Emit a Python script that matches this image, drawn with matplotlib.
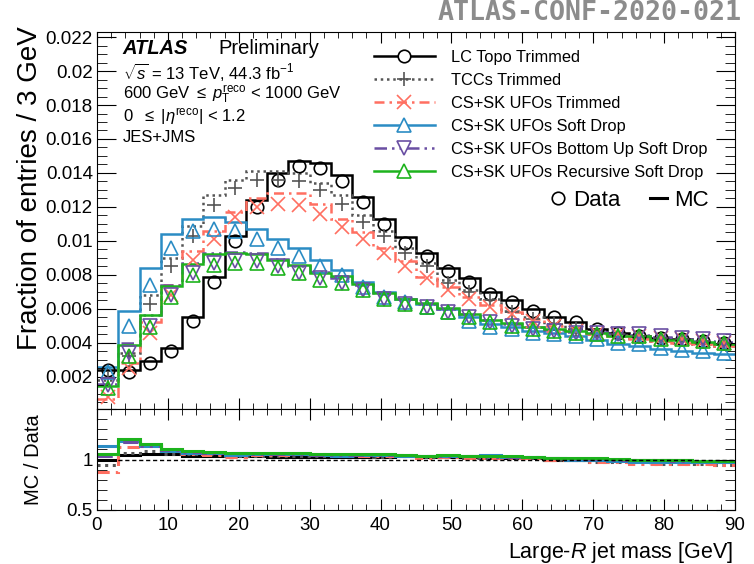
import numpy as np
import matplotlib
matplotlib.use("Agg")
import matplotlib.pyplot as plt
from matplotlib.lines import Line2D
from matplotlib.ticker import MultipleLocator, FuncFormatter

plt.rcParams['font.family'] = ['Liberation Sans', 'DejaVu Sans']
plt.rcParams['mathtext.fontset'] = 'custom'
plt.rcParams['mathtext.rm'] = 'Liberation Sans'
plt.rcParams['mathtext.it'] = 'Liberation Sans:italic'
plt.rcParams['mathtext.bf'] = 'Liberation Sans:bold'

# large-R jet mass, 3 GeV bins from 0 to 90 GeV
bin_width = 3
mass_max = 90

# data (markers) and MC (histograms) for each jet collection
lctopo_data = [0.0024, 0.0023, 0.0028, 0.0035, 0.0053, 0.0076, 0.0100, 0.0120, 0.0136, 0.0144,
               0.0143, 0.0135, 0.0123, 0.0110, 0.0099, 0.0091, 0.0082, 0.0076, 0.0069, 0.0064,
               0.0059, 0.0055, 0.0052, 0.0048, 0.0046, 0.0044, 0.0043, 0.0042, 0.0041, 0.0040]
lctopo_mc = [0.00238, 0.0024, 0.00295, 0.0037, 0.0055, 0.0079, 0.0103, 0.0124, 0.0140, 0.0147,
             0.0146, 0.0139, 0.0126, 0.0113, 0.0102, 0.0093, 0.0084, 0.0078, 0.0070, 0.0065,
             0.0060, 0.0055, 0.0052, 0.0048, 0.0046, 0.0044, 0.0043, 0.0042, 0.0040, 0.0039]

tcc_data = [0.0019, 0.0032, 0.0063, 0.0085, 0.0103, 0.0121, 0.0131, 0.0136, 0.0136, 0.0135,
            0.0130, 0.0122, 0.0111, 0.0103, 0.0093, 0.0085, 0.0075, 0.0070, 0.0065, 0.0058,
            0.0054, 0.0051, 0.0048, 0.0046, 0.0045, 0.0044, 0.0043, 0.0042, 0.0041, 0.0040]
tcc_mc = [0.0018, 0.0034, 0.0068, 0.0090, 0.0109, 0.0127, 0.0136, 0.0141, 0.0141, 0.0140,
          0.0134, 0.0127, 0.0115, 0.0106, 0.0096, 0.0087, 0.0077, 0.0071, 0.0066, 0.0059,
          0.0055, 0.0051, 0.0048, 0.0045, 0.0044, 0.0043, 0.0041, 0.0040, 0.0039, 0.0038]

ufo_trim_data = [0.0008, 0.0025, 0.0046, 0.0068, 0.0089, 0.0101, 0.0114, 0.0120, 0.0122, 0.0121,
                 0.0116, 0.0108, 0.0101, 0.0093, 0.0085, 0.0078, 0.0071, 0.0066, 0.0061, 0.0057,
                 0.0053, 0.0050, 0.0047, 0.0046, 0.0045, 0.0044, 0.0043, 0.0042, 0.0041, 0.0040]
ufo_trim_mc = [0.0007, 0.0028, 0.0052, 0.0074, 0.0094, 0.0106, 0.0117, 0.0125, 0.0128, 0.0128,
               0.0122, 0.0113, 0.0105, 0.0096, 0.0088, 0.0079, 0.0073, 0.0067, 0.0062, 0.0058,
               0.0054, 0.0050, 0.0047, 0.0045, 0.0044, 0.0042, 0.0041, 0.0040, 0.0039, 0.0038]

ufo_sd_data = [0.0023, 0.0050, 0.0074, 0.0096, 0.0106, 0.0107, 0.0106, 0.0101, 0.0096, 0.0091,
               0.0085, 0.0080, 0.0073, 0.0067, 0.0064, 0.0061, 0.0058, 0.0053, 0.0049, 0.0048,
               0.0046, 0.0045, 0.0044, 0.0042, 0.0040, 0.0039, 0.0037, 0.0036, 0.0035, 0.0034]
ufo_sd_mc = [0.0026, 0.0059, 0.0084, 0.0104, 0.0113, 0.0114, 0.0111, 0.0107, 0.0101, 0.0096,
             0.0089, 0.0083, 0.0076, 0.0070, 0.0066, 0.0063, 0.0060, 0.0055, 0.0051, 0.0049,
             0.0047, 0.00455, 0.0044, 0.00416, 0.00394, 0.00382, 0.00362, 0.00352, 0.00342, 0.00332]

ufo_busd_data = [0.0015, 0.0034, 0.0050, 0.0068, 0.0081, 0.0087, 0.0088, 0.0088, 0.0085, 0.0081,
                 0.0078, 0.0075, 0.0071, 0.0066, 0.0063, 0.0061, 0.0058, 0.0055, 0.0052, 0.0050,
                 0.0048, 0.0047, 0.0046, 0.0046, 0.0045, 0.0045, 0.0044, 0.0043, 0.0042, 0.0041]
ufo_busd_mc = [0.00155, 0.00398, 0.00565, 0.00741, 0.00867, 0.00926, 0.00933, 0.00928, 0.00893, 0.00851,
               0.00815, 0.00784, 0.00742, 0.00690, 0.00655, 0.00631, 0.00600, 0.00567, 0.00533, 0.00512,
               0.00490, 0.00477, 0.00464, 0.00462, 0.00450, 0.00448, 0.00436, 0.00424, 0.00412, 0.00402]

ufo_rsd_data = [0.00135, 0.0032, 0.0049, 0.0067, 0.0080, 0.0086, 0.0087, 0.0087, 0.0084, 0.0081,
                0.0077, 0.0075, 0.0071, 0.0066, 0.0063, 0.0061, 0.0058, 0.0055, 0.0052, 0.0050,
                0.0048, 0.0047, 0.0046, 0.0045, 0.0044, 0.0044, 0.0042, 0.0042, 0.0041, 0.0040]
ufo_rsd_mc = [0.00143, 0.00384, 0.00564, 0.00737, 0.00864, 0.00920, 0.00927, 0.00922, 0.00890, 0.00859,
              0.00812, 0.00791, 0.00746, 0.00693, 0.00658, 0.00634, 0.00603, 0.00569, 0.00536, 0.00515,
              0.00492, 0.00479, 0.00467, 0.00455, 0.00442, 0.00440, 0.00418, 0.00416, 0.00404, 0.00394]

labels = ["LC Topo Trimmed", "TCCs Trimmed", "CS+SK UFOs Trimmed", "CS+SK UFOs Soft Drop",
          "CS+SK UFOs Bottom Up Soft Drop", "CS+SK UFOs Recursive Soft Drop"]

# style per collection: colour, line style, marker
styles = [
    ("#000000", "-", "o"),
    ("#555555", (0, (1, 1.5)), "+"),
    ("#ff6f61", (0, (4, 2, 1, 2)), "x"),
    ("#2b8cc4", "-", "^"),
    ("#6a4fa3", (0, (5, 2, 1, 2, 1, 2)), "v"),
    ("#1db31d", "-", "^"),
]
series = [(lctopo_data, lctopo_mc), (tcc_data, tcc_mc), (ufo_trim_data, ufo_trim_mc),
          (ufo_sd_data, ufo_sd_mc), (ufo_busd_data, ufo_busd_mc), (ufo_rsd_data, ufo_rsd_mc)]

edges = np.arange(0, mass_max + bin_width, bin_width)
centers = edges[:-1] + bin_width / 2

W, H = 754, 564
fig = plt.figure(figsize=(W / 100, H / 100), dpi=100)
ax = fig.add_axes([97 / W, 1 - 409 / H, 638 / W, 377 / H])
rax = fig.add_axes([97 / W, 1 - 510 / H, 638 / W, 101 / H], sharex=ax)

for (data, mc), (col, ls, mk), lab in zip(series, styles, labels):
    data = np.array(data)
    mc = np.array(mc)
    ax.stairs(mc, edges, baseline=None, color=col, ls=ls, lw=1.8)
    ax.plot(centers, data, ls="none", marker=mk, ms=10 if mk != "o" else 9,
            mfc="none", mec=col, mew=1.2)
    rax.stairs(mc / data, edges, baseline=None, color=col, ls=ls, lw=2.2)

rax.axhline(1, color="k", ls=(0, (3, 2)), lw=1)

ax.set_xlim(0, mass_max)
ax.set_ylim(0.0001, 0.0223)
rax.set_ylim(0.5, 1.5)

fmt = FuncFormatter(lambda v, p: "%g" % round(v, 4) if v > 0.0015 else "")
ax.yaxis.set_major_locator(MultipleLocator(0.002))
ax.yaxis.set_minor_locator(MultipleLocator(0.0005))
ax.yaxis.set_major_formatter(fmt)
ax.xaxis.set_major_locator(MultipleLocator(10))
ax.xaxis.set_minor_locator(MultipleLocator(2))
rax.yaxis.set_major_locator(MultipleLocator(0.5))
rax.yaxis.set_minor_locator(MultipleLocator(0.1))
rax.yaxis.set_major_formatter(FuncFormatter(lambda v, p: "%g" % v if v < 1.4 else ""))

for a in (ax, rax):
    a.tick_params(which="both", direction="in", top=True, right=True, labelsize=13.5)
    a.tick_params(axis="y", which="major", length=14, pad=3)
    a.tick_params(axis="y", which="minor", length=7)
    a.tick_params(axis="x", which="major", length=8, pad=5)
    a.tick_params(axis="x", which="minor", length=4)
ax.tick_params(labelbottom=False)

ax.set_ylabel("Fraction of entries / 3 GeV", fontsize=20, loc="top")
ax.yaxis.set_label_coords(-0.085, 1.015)
rax.set_ylabel("MC / Data", fontsize=14.5)
rax.yaxis.set_label_coords(-0.085, 0.5)
rax.set_xlabel("Large-$R$ jet mass [GeV]", fontsize=15.5, loc="right")
rax.xaxis.set_label_coords(0.997, -0.3)

# labels
tx = ax.transAxes
ax.text(0.04, 0.955, "ATLAS", transform=tx, fontsize=14.5, fontweight="bold", style="italic", va="center")
ax.text(0.191, 0.955, "Preliminary", transform=tx, fontsize=14.5, va="center")
ax.text(0.04, 0.895, r"$\sqrt{s}$ = 13 TeV, 44.3 fb$^{-1}$", transform=tx, fontsize=12, va="center")
ax.text(0.04, 0.835, r"600 GeV $\leq$ $p_{\mathrm{T}}^{\mathrm{reco}}$ < 1000 GeV", transform=tx, fontsize=12, va="center")
ax.text(0.04, 0.775, r"0  $\leq$ |$\eta^{\mathrm{reco}}$| < 1.2", transform=tx, fontsize=12, va="center")
ax.text(0.04, 0.72, "JES+JMS", transform=tx, fontsize=12, va="center")

fig.text(438 / W, 1 - 13 / H, "ATLAS-CONF-2020-021", ha="left", va="center",
         fontsize=19.2, fontweight="bold", family="DejaVu Sans Mono", color="#8c8c8c")

handles = [Line2D([], [], color=c, ls=l, lw=1.8, marker=m, ms=10 if m != "o" else 9,
                  mfc="white", mec=c, mew=1.2) for c, l, m in styles]
leg = ax.legend(handles, labels, loc="upper left", bbox_to_anchor=(374 / W, 1 - 50 / H),
                bbox_transform=fig.transFigure, frameon=False, fontsize=11.8,
                handlelength=3.7, handletextpad=1.0, labelspacing=0.49, borderpad=0, borderaxespad=0)
ax.add_artist(leg)

dm = [Line2D([], [], ls="none", marker="o", ms=9, mfc="none", mec="k", mew=1.2),
      Line2D([], [], color="k", lw=2.2)]
ax.legend(dm, ["Data", "MC"], loc="upper left", bbox_to_anchor=(549 / W, 1 - 190 / H),
          bbox_transform=fig.transFigure, frameon=False, fontsize=16, ncol=2,
          handlelength=0.8, handletextpad=0.3, columnspacing=1.3, borderpad=0, borderaxespad=0)

fig.savefig("out.png", dpi=100, facecolor="white")
